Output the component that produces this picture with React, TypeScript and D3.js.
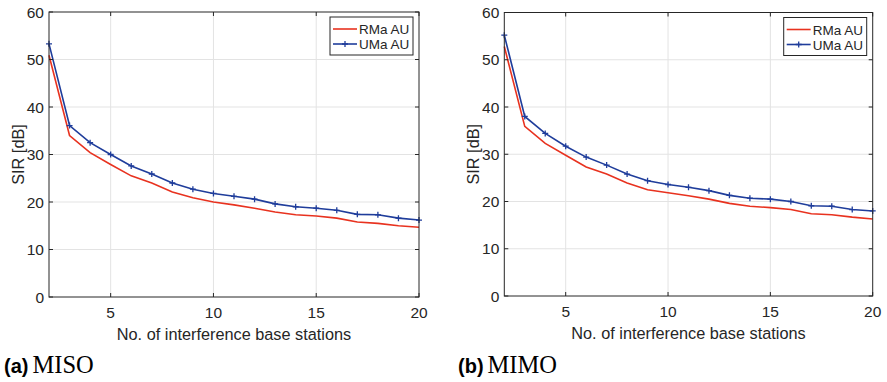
import React from "react";
import * as d3 from "d3";

const stations = [2, 3, 4, 5, 6, 7, 8, 9, 10, 11, 12, 13, 14, 15, 16, 17, 18, 19, 20];
const misoRMa = [50.9, 34.0, 30.4, 27.9, 25.5, 24.0, 22.1, 20.9, 20.0, 19.4, 18.7, 17.9, 17.3, 17.05, 16.6, 15.8, 15.5, 15.0, 14.7];
const misoUMa = [53.3, 36.1, 32.5, 30.0, 27.6, 25.9, 24.0, 22.7, 21.8, 21.2, 20.6, 19.6, 19.0, 18.7, 18.25, 17.4, 17.3, 16.6, 16.2];
const mimoRMa = [52.8, 35.9, 32.3, 29.8, 27.3, 25.8, 23.9, 22.5, 21.85, 21.2, 20.5, 19.6, 19.0, 18.7, 18.3, 17.4, 17.2, 16.7, 16.3];
const mimoUMa = [55.2, 38.0, 34.4, 31.7, 29.4, 27.7, 25.8, 24.4, 23.6, 23.0, 22.3, 21.3, 20.7, 20.5, 20.0, 19.1, 19.0, 18.3, 18.0];
const xTicks = [5, 10, 15, 20];
const yTicks = [0, 10, 20, 30, 40, 50, 60];
const seriesNames = ["RMa AU", "UMa AU"];
const xLabel = "No. of interference base stations";
const yLabel = "SIR [dB]";
const panelLetters = ["(a)", "(b)"];
const panelTitles = ["MISO", "MIMO"];

const RED = "#e8321f";
const BLUE = "#1f3d9b";
const AXIS = "#262626";
const GRID = "#e3e3e3";
const SANS = "'Liberation Sans', Arial, sans-serif";
const SERIF = "'Liberation Serif', 'Times New Roman', serif";

type PanelProps = {
  x0: number; x1: number; yTop: number; yBot: number;
  rma: number[]; uma: number[]; letter: string; title: string; captionX: number;
};

function Panel({ x0, x1, yTop, yBot, rma, uma, letter, title, captionX }: PanelProps) {
  const x = d3.scaleLinear().domain([2, 20]).range([x0, x1]);
  const y = d3.scaleLinear().domain([0, 60]).range([yBot, yTop]);
  const line = d3.line<[number, number]>().x(d => x(d[0])).y(d => y(d[1]));
  const rmaPts = stations.map((s, i) => [s, rma[i]] as [number, number]);
  const umaPts = stations.map((s, i) => [s, uma[i]] as [number, number]);
  const tl = 4;
  const lgX0 = x1 - 89, lgX1 = x1 - 6, lgY0 = yTop + 5, lgY1 = yTop + 43;
  return (
    <g>
      <rect x={x0} y={yTop} width={x1 - x0} height={yBot - yTop} fill="#fff" />
      {xTicks.filter(t => t < 20).map(t => (
        <line key={"gx" + t} x1={x(t)} x2={x(t)} y1={yTop} y2={yBot} stroke={GRID} strokeWidth={1} />
      ))}
      {yTicks.filter(t => t > 0 && t < 60).map(t => (
        <line key={"gy" + t} x1={x0} x2={x1} y1={y(t)} y2={y(t)} stroke={GRID} strokeWidth={1} />
      ))}
      <path d={line(rmaPts) || ""} fill="none" stroke={RED} strokeWidth={1.6} />
      <path d={line(umaPts) || ""} fill="none" stroke={BLUE} strokeWidth={1.6} />
      {umaPts.map((p, i) => (
        <path key={"m" + i} d={`M${x(p[0]) - 3},${y(p[1])}H${x(p[0]) + 3}M${x(p[0])},${y(p[1]) - 3}V${y(p[1]) + 3}`}
          stroke={BLUE} strokeWidth={1.3} />
      ))}
      <rect x={x0} y={yTop} width={x1 - x0} height={yBot - yTop} fill="none" stroke={AXIS} strokeWidth={1} />
      {xTicks.map(t => (
        <g key={"xt" + t}>
          <line x1={x(t)} x2={x(t)} y1={yBot} y2={yBot - tl} stroke={AXIS} />
          <line x1={x(t)} x2={x(t)} y1={yTop} y2={yTop + tl} stroke={AXIS} />
          <text x={x(t)} y={yBot + 21} textAnchor="middle" fontFamily={SANS} fontSize={15.5} fill={AXIS}>{t}</text>
        </g>
      ))}
      {yTicks.map(t => (
        <g key={"yt" + t}>
          <line x1={x0} x2={x0 + tl} y1={y(t)} y2={y(t)} stroke={AXIS} />
          <line x1={x1} x2={x1 - tl} y1={y(t)} y2={y(t)} stroke={AXIS} />
          <text x={x0 - 5} y={y(t) + 5.5} textAnchor="end" fontFamily={SANS} fontSize={15.5} fill={AXIS}>{t}</text>
        </g>
      ))}
      <text x={(x0 + x1) / 2} y={yBot + 43} textAnchor="middle" fontFamily={SANS} fontSize={16.3} fill={AXIS}>{xLabel}</text>
      <text transform={`translate(${x0 - 25.5},${(yTop + yBot) / 2}) rotate(-90)`} textAnchor="middle"
        fontFamily={SANS} fontSize={16.3} fill={AXIS}>{yLabel}</text>
      <rect x={lgX0} y={lgY0} width={lgX1 - lgX0} height={lgY1 - lgY0} fill="#fff" stroke={AXIS} strokeWidth={1} />
      <line x1={lgX0 + 3} x2={lgX0 + 27} y1={lgY0 + 12} y2={lgY0 + 12} stroke={RED} strokeWidth={1.6} />
      <line x1={lgX0 + 3} x2={lgX0 + 27} y1={lgY0 + 27} y2={lgY0 + 27} stroke={BLUE} strokeWidth={1.6} />
      <path d={`M${lgX0 + 12},${lgY0 + 27}H${lgX0 + 18}M${lgX0 + 15},${lgY0 + 24}V${lgY0 + 30}`} stroke={BLUE} strokeWidth={1.3} />
      <text x={lgX0 + 29} y={lgY0 + 17} fontFamily={SANS} fontSize={13.5} fill={AXIS}>{seriesNames[0]}</text>
      <text x={lgX0 + 29} y={lgY0 + 32} fontFamily={SANS} fontSize={13.5} fill={AXIS}>{seriesNames[1]}</text>
      <text x={captionX} y={373} fill="#000">
        <tspan fontFamily={SANS} fontWeight="bold" fontSize={20}>{letter}</tspan>
        <tspan fontFamily={SERIF} fontSize={24.5} dx={4}>{title}</tspan>
      </text>
    </g>
  );
}

export default function App() {
  return (
    <svg width={887} height={382} style={{ position: "absolute", left: 0, top: 0, background: "#fff" }}>
      <rect width={887} height={382} fill="#fff" />
      <Panel x0={49} x1={419} yTop={12} yBot={297} rma={misoRMa} uma={misoUMa}
        letter={panelLetters[0]} title={panelTitles[0]} captionX={4} />
      <Panel x0={504.3} x1={872.7} yTop={12.5} yBot={296} rma={mimoRMa} uma={mimoUMa}
        letter={panelLetters[1]} title={panelTitles[1]} captionX={458} />
    </svg>
  );
}
